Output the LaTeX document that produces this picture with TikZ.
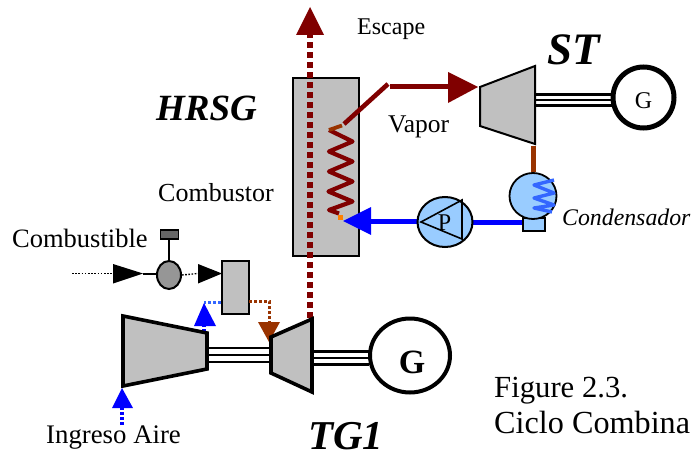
\documentclass[tikz,border=0pt]{standalone}
\usepackage{fontspec}
\setmainfont{Liberation Serif}
\usetikzlibrary{shapes.geometric}
\definecolor{steam}{HTML}{800000}
\definecolor{brownish}{HTML}{993300}
\definecolor{gfill}{HTML}{C0C0C0}
\definecolor{lblue}{HTML}{99CCFF}
\definecolor{mblue}{HTML}{3366FF}
\newcommand{\fs}[1]{\fontsize{#1}{#1}\selectfont}
\tikzset{
  x=1pt,y=-1pt,
  lbl/.style={inner sep=0pt,anchor=base west,text=black},
  eqbox/.style={draw=black,fill=gfill,line width=2pt,line join=miter},
  bigturb/.style={draw=black,fill=gfill,line width=3.6pt,line join=miter},
  shaftline/.style={draw=black,line width=2.8pt},
  head/.style={fill=#1,draw=none},
  gas/.style={draw=steam,line width=6pt,dash pattern=on 6pt off 4pt},
  steamline/.style={draw=steam,line width=5pt},
  fuel/.style={draw=black,line width=1.4pt,dash pattern=on 1.6pt off 1.6pt},
  airdot/.style={draw=blue,line width=3.2pt,dash pattern=on 3pt off 2pt},
  brdot/.style={draw=brownish,line width=3pt,dash pattern=on 3pt off 2pt},
  gen/.style={draw=black,fill=white,ellipse,inner sep=0pt,minimum width=#1},
}
\begin{document}
\begin{tikzpicture}
\useasboundingbox (0,0) rectangle (691,452);
% named points
\coordinate (gasTop) at (310,35);
\coordinate (gasBot) at (310,318);
\coordinate (vapA) at (344,124);
\coordinate (vapB) at (388,84);
\coordinate (vapC) at (390,87);
\coordinate (vapD) at (449,87);
\coordinate (fwHead) at (371,221);
\coordinate (condTop) at (533.5,172);
\coordinate (stBot) at (533.5,146);
\coordinate (fuelS) at (72,273.5);
\coordinate (fuelH) at (113,273.5);
\coordinate (fuelV) at (143,273.5);
\coordinate (fuelW) at (198,273.5);
\coordinate (airS) at (122,425);
\coordinate (airH) at (122,408);
\coordinate (cbL) at (221,302);
\coordinate (cbC) at (204,302);
\coordinate (cbB) at (204,332);
\coordinate (cbR) at (249,301);
\coordinate (brC) at (269,301);
\coordinate (brD) at (269,322);

% HRSG
\node[eqbox,minimum width=66pt,minimum height=178pt,inner sep=0pt] (hrsg) at (325.5,167) {};
% exhaust
\draw[gas] (gasBot) -- (gasTop);
\fill[head=steam] (310,7) -- (324,35) -- (296,35) -- cycle;
% coil
\draw[draw=steam,line width=4.2pt,line join=round]
  (329,130) -- (352.5,141.5) -- (329,151.5) -- (352.5,161.5) -- (329,171.5) -- (352.5,181.5)
  -- (328.5,191.5) -- (352.5,201.5) -- (329,210) -- (339,213.5);
\draw[draw=brownish,line width=3.8pt] (329,130) -- (342,125.5);
\fill[orange] (337.5,214.5) rectangle (342.5,219.5);
% steam
\draw[steamline,line width=4.6pt] (vapA) -- (vapB);
\draw[steamline] (vapC) -- (vapD);
\fill[head=steam] (448,72) -- (478,87) -- (448,103) -- cycle;
% ST
\draw[shaftline] (535,94.7) -- (612,94.7) (535,100) -- (612,100) (535,105.7) -- (612,105.7);
\draw[eqbox] (480,87) -- (535,66) -- (535,144) -- (480,126) -- cycle;
\node[gen=61pt,minimum height=61pt,line width=5pt] (gST) at (643.5,97.5) {};
\node[inner sep=0pt,anchor=base,font=\fs{24}] at (643.5,108) {G};
% condensate
\draw[draw=brownish,line width=5pt] (stBot) -- (condTop);
\draw[draw=blue,line width=5pt] (473,222) -- (523,222);
\draw[draw=blue,line width=5pt] (fwHead) -- (418,221);
\fill[head=blue] (343,221) -- (371,207) -- (371,235) -- cycle;
% pump
\node[draw=black,fill=lblue,ellipse,inner sep=0pt,line width=2pt,minimum width=55pt,minimum height=50pt] (pump) at (445,222) {};
\draw[draw=black,line width=1.6pt,line join=miter] (421,222) -- (462,200) -- (462,239) -- cycle;
\node[inner sep=0pt,anchor=base,font=\fs{24}] (pl) at (444.5,230) {P};
% condenser
\node[draw=black,fill=lblue,inner sep=0pt,line width=1.8pt,minimum width=22pt,minimum height=13pt] (condB) at (534,224.5) {};
\node[draw=black,fill=lblue,ellipse,inner sep=0pt,line width=1.8pt,minimum width=47pt,minimum height=46pt] (cond) at (533,196) {};
\draw[draw=mblue,line width=3.4pt,line join=round] (554,180) -- (534,185) -- (554,193) -- (534,198) -- (554,205) -- (534,208) -- (552,212);
% fuel
\draw[fuel] (fuelS) -- (fuelH);
\fill[head=black] (113,264) -- (143,273.5) -- (113,283.5) -- cycle;
\draw[draw=black,line width=2pt] (fuelV) -- (158,273.5);
\draw[draw=black,line width=2pt] (169,239) -- (169,262);
\node[draw=black,fill=gray!80!black,inner sep=0pt,line width=1.6pt,minimum width=18pt,minimum height=9pt] (act) at (169.5,234.5) {};
\node[draw=black,fill={rgb,255:red,150;green,150;blue,150},ellipse,inner sep=0pt,line width=2pt,minimum width=24pt,minimum height=28pt] (valve) at (169,275) {};
\draw[fuel] (valve.east) -- (fuelW);
\fill[head=black] (198,264) -- (222,273.5) -- (198,283.5) -- cycle;
\node[eqbox,minimum width=27pt,minimum height=53pt,inner sep=0pt] (comb) at (235,287.5) {};
% shafts TG
\draw[shaftline] (207,348) -- (272,348) (207,355) -- (272,355) (207,362) -- (272,362);
\draw[shaftline] (312,351.5) -- (369,351.5) (312,358) -- (369,358) (312,364.5) -- (369,364.5);
% air path from combustor
\draw[draw=mblue,line width=3pt,dash pattern=on 3pt off 2pt] (cbL) -- (cbC);
\draw[airdot] (cbB) -- (204,322);
\fill[head=blue] (204,303) -- (216,326) -- (194,326) -- cycle;
% fuel gas path
\draw[brdot] (cbR) -- (brC) -- (brD);
\fill[head=brownish] (258,322) -- (280,322) -- (269,342) -- cycle;
% compressor, turbine
\draw[bigturb] (123,316) -- (207,333) -- (207,369) -- (123,386) -- cycle;
\draw[bigturb] (271,337) -- (312,319) -- (312,392) -- (271,373) -- cycle;
\node[gen=80pt,minimum height=74pt,line width=4pt] (gTG) at (410,355.5) {};
\node[inner sep=0pt,anchor=base,font=\fs{34}\bfseries] at (412,373) {G};
% air inlet
\draw[airdot] (airS) -- (airH);
\fill[head=blue] (122,388) -- (133,408) -- (112,408) -- cycle;
% labels
\node[lbl,font=\fs{24}] (tEsc) at (357,35) {Escape};
\node[lbl,font=\fs{25.5}] (tVap) at (388,132) {Vapor};
\node[lbl,font=\fs{26}] (tCmb) at (158,201) {Combustor};
\node[lbl,font=\fs{23.8}\itshape] (tCnd) at (562,225) {Condensador};
\node[lbl,font=\fs{26.5}] (tFuel) at (12,247) {Combustible};
\node[lbl,font=\fs{26.8}] (tAir) at (46,443) {Ingreso Aire};
\node[lbl,font=\fs{30.7}] (tFig) at (494,397) {Figure 2.3.};
\node[lbl,font=\fs{32.2}] (tCic) at (494,433) {Ciclo Combina};
\node[lbl,font=\fs{37}\bfseries\itshape] (tHR) at (156,120) {HRSG};
\node[lbl,font=\fs{45}\bfseries\itshape] (tST) at (547,65) {ST};
\node[lbl,font=\fs{41}\bfseries\itshape] (tTG) at (308,449.5) {TG1};
\end{tikzpicture}
\end{document}
